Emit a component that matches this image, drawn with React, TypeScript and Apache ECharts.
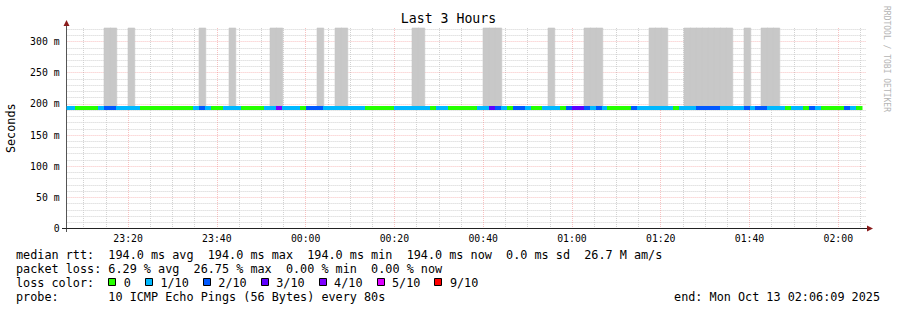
import React, { useEffect, useRef } from "react";
import * as echarts from "echarts";

const FONT = '"DejaVu Sans Mono", monospace';

// ---- time range (local time) ----
const RANGE_START = new Date(2025, 9, 12, 23, 6, 9).getTime();
const RANGE_END = new Date(2025, 9, 13, 2, 6, 9).getTime();
const FIRST_SAMPLE = new Date(2025, 9, 12, 23, 5, 20).getTime();
const STEP_MS = 80 * 1000;

// ---- values ----
const MEDIAN_RTT_MS = 194.0;
const Y_MAX_MS = 321.7;

// packet loss (in tenths) for each 80 s sample, oldest first
const lossTenths = [
  1, 1,
  0, 0, 0, 0, 1, 2, 2, 1, 1, 1, 1,
  0, 0, 0, 0, 0, 0, 0, 0, 0, 1, 2, 1,
  0, 0, 1, 1, 1, 0, 0, 0, 0, 1, 1, 4,
  1, 1, 1, 0, 2, 2, 2, 1, 1, 1, 1, 1, 1, 1,
  0, 0, 0, 0, 0, 1, 1, 1, 1, 1, 1, 0, 1, 1,
  0, 0, 0, 0, 0, 1, 1, 3, 2, 1, 0, 2, 2, 1,
  0, 0, 1, 1, 1, 0, 2, 3, 3, 2, 1, 2, 1,
  0, 0, 0, 0, 2, 1, 1, 1, 1, 1, 1, 0, 1, 1, 1,
  2, 2, 2, 2, 1, 1, 1, 1, 2, 1, 2, 2, 1, 1, 1,
  0, 1, 1, 0, 2, 1, 0, 0, 0, 0, 2, 1, 0,
];

// smoke: [sample index, highest rtt in ms] (values above the top are clipped)
const smokeSamples: [number, number][] = [
  [7, 400], [8, 400], [11, 400], [23, 400], [28, 400], [35, 400], [36, 400],
  [43, 400], [46, 400], [47, 400], [59, 400], [60, 400], [71, 400], [72, 400],
  [73, 400], [82, 400], [88, 400], [89, 400], [90, 400], [97, 196], [98, 196],
  [99, 400], [100, 400], [101, 400], [105, 400], [106, 400], [107, 400],
  [108, 400], [109, 400], [110, 400], [111, 400], [112, 400], [115, 400],
  [118, 400], [119, 400], [120, 400],
];

const lossLevels = [0, 1, 2, 3, 4, 5, 9];
const lossLabels = ["0", "1/10", "2/10", "3/10", "4/10", "5/10", "9/10"];
const lossColors = ["#26ff00", "#00b8ff", "#0059ff", "#5e00ff", "#7e00ff", "#dd00ff", "#ff0000"];

const medianStats = ["194.0 ms avg", "194.0 ms max", "194.0 ms min", "194.0 ms now", "0.0 ms sd", "26.7 M am/s"];
const lossStats = ["6.29 % avg", "26.75 % max", "0.00 % min", "0.00 % now"];
const probeText = "10 ICMP Echo Pings (56 Bytes) every 80s";
const endText = "end: Mon Oct 13 02:06:09 2025";
const titleText = "Last 3 Hours";
const yAxisTitle = "Seconds";
const sideText = "RRDTOOL / TOBI OETIKER";

function lossColor(l: number): string {
  let c = lossColors[0];
  lossLevels.forEach((lv, i) => {
    if (l >= lv) c = lossColors[i];
  });
  return c;
}

const pad = (n: number) => (n < 10 ? "0" + n : "" + n);

export default function App() {
  const ref = useRef<HTMLDivElement>(null);

  useEffect(() => {
    if (!ref.current) return;
    const chart = echarts.init(ref.current, null, { renderer: "svg" });

    const medianData = lossTenths.map((l, i) => [
      FIRST_SAMPLE + i * STEP_MS,
      FIRST_SAMPLE + (i + 1) * STEP_MS,
      MEDIAN_RTT_MS,
      l,
    ]);
    const smokeData = smokeSamples.map(([i, top]) => [
      FIRST_SAMPLE + i * STEP_MS,
      FIRST_SAMPLE + (i + 1) * STEP_MS,
      MEDIAN_RTT_MS,
      top,
    ]);

    const legendSize = 11.8;
    const CH = 7.1;
    const LX = 16;
    const rows = [254.5, 268.5, 282.5, 296.5];
    const txt = (text: string, x: number, y: number, extra: any = {}) => ({
      type: "text",
      x,
      y,
      silent: true,
      style: {
        text,
        fill: "#000",
        fontFamily: FONT,
        fontSize: legendSize,
        textAlign: "left",
        textVerticalAlign: "middle",
        align: "left",
        verticalAlign: "middle",
        ...extra,
      },
    });

    const graphics: any[] = [
      txt("median rtt:  " + medianStats.join("  "), LX, rows[0]),
      txt("packet loss: " + lossStats.join("  "), LX, rows[1]),
      txt("loss color:", LX, rows[2]),
      txt("probe:       " + probeText, LX, rows[3]),
      txt(endText, 880, rows[3], { textAlign: "right", align: "right" }),
      {
        type: "text",
        x: 886,
        y: 59,
        rotation: -Math.PI / 2,
        silent: true,
        style: {
          text: sideText,
          fill: "#b4b4b4",
          fontFamily: FONT,
          fontSize: 8,
          textAlign: "center",
          align: "center",
          textVerticalAlign: "middle",
          verticalAlign: "middle",
        },
      },
      // axis extensions and arrows
      { type: "line", silent: true, shape: { x1: 62, y1: 228.5, x2: 867, y2: 228.5 }, style: { stroke: "#222", lineWidth: 1 } },
      { type: "line", silent: true, shape: { x1: 66.5, y1: 232, x2: 66.5, y2: 24 }, style: { stroke: "#555", lineWidth: 1 } },
      { type: "polygon", silent: true, shape: { points: [[63.5, 26], [69.5, 26], [66.5, 20]] }, style: { fill: "#8a1c1c" } },
      { type: "polygon", silent: true, shape: { points: [[867, 225.5], [867, 231.5], [873, 228.5]] }, style: { fill: "#8a1c1c" } },
    ];

    let sx = LX + 13 * CH;
    lossLabels.forEach((lab, i) => {
      const rx = Math.round(sx) + 0.5;
      graphics.push({
        type: "rect",
        silent: true,
        shape: { x: rx, y: 278.5, width: 7, height: 7 },
        style: { fill: lossColors[i], stroke: "#000", lineWidth: 1 },
      });
      const lx = sx + 15.5;
      graphics.push(txt(lab, lx, rows[2]));
      sx = lx + lab.length * CH + 14.0;
    });

    const coordRect = (params: any) => ({
      x: params.coordSys.x,
      y: params.coordSys.y,
      width: params.coordSys.width,
      height: params.coordSys.height,
    });

    const gridMajor = "rgba(240, 110, 110, 0.42)";
    const gridMinor = "#d2d2d2";

    const option: any = {
      animation: false,
      backgroundColor: "#fff",
      title: {
        text: titleText,
        left: "center",
        top: 12,
        padding: 0,
        textStyle: { fontFamily: FONT, fontSize: 13.2, fontWeight: "normal", color: "#000" },
      },
      grid: {
        left: 66.6,
        right: 31.4,
        top: 28,
        bottom: 81.5,
        containLabel: false,
        outerBoundsMode: "none",
      },
      xAxis: [
        {
          type: "time",
          min: RANGE_START,
          max: RANGE_END,
          minInterval: 21 * 60 * 1000,
          maxInterval: 21 * 60 * 1000,
          z: 1,
          axisLine: { show: true, lineStyle: { color: "#222", width: 1 } },
          axisTick: { show: false },
          axisLabel: {
            show: true,
            margin: 5,
            color: "#000",
            fontFamily: FONT,
            fontSize: 9.8,
            fontWeight: "normal",
            showMinLabel: false,
            showMaxLabel: false,
            formatter: (value: number) => {
              const d = new Date(value);
              if (d.getSeconds() !== 0 || d.getMinutes() % 20 !== 0) return "";
              return pad(d.getHours()) + ":" + pad(d.getMinutes());
            },
            rich: {},
          },
          splitLine: {
            show: true,
            showMinLine: false,
            showMaxLine: false,
            lineStyle: { color: gridMajor, width: 1, type: [1, 1] },
          },
        },
        {
          type: "time",
          min: RANGE_START,
          max: RANGE_END,
          minInterval: 5.5 * 60 * 1000,
          maxInterval: 5.5 * 60 * 1000,
          z: 0,
          axisLine: { show: false },
          axisTick: { show: false },
          axisLabel: { show: false },
          splitLine: {
            show: true,
            showMaxLine: false,
            lineStyle: {
              color: [gridMinor, gridMinor, gridMinor, "rgba(0,0,0,0)"],
              width: 1,
              type: [1, 1],
            },
          },
        },
      ],
      yAxis: [
        {
          type: "value",
          min: 0,
          max: Y_MAX_MS,
          interval: 50,
          z: 1,
          name: yAxisTitle,
          nameLocation: "middle",
          nameGap: 50,
          nameRotate: 90,
          nameTextStyle: { fontFamily: FONT, fontSize: 11.8, color: "#000" },
          axisLine: { show: true, lineStyle: { color: "#555", width: 1 } },
          axisTick: { show: false },
          axisLabel: {
            margin: 7,
            color: "#000",
            fontFamily: FONT,
            fontSize: 9.8,
            showMaxLabel: false,
            formatter: (v: number) => {
              if (v % 50 !== 0) return "";
              return v === 0 ? "0" : v + " m";
            },
          },
          splitLine: {
            show: true,
            showMinLine: false,
            showMaxLine: false,
            lineStyle: { color: gridMajor, width: 1, type: [1, 1] },
          },
        },
        {
          type: "value",
          min: 0,
          max: Y_MAX_MS,
          interval: 10,
          z: 0,
          axisLine: { show: false },
          axisTick: { show: false },
          axisLabel: { show: false },
          splitLine: {
            show: true,
            showMaxLine: false,
            lineStyle: {
              color: ["rgba(0,0,0,0)", gridMinor, gridMinor, gridMinor, gridMinor],
              width: 1,
              type: [1, 1],
            },
          },
        },
      ],
      series: [
        {
          type: "custom",
          name: "smoke",
          xAxisIndex: 0,
          yAxisIndex: 0,
          dimensions: ["start", "end", "median", "top"],
          encode: { x: [0, 1], y: [2, 3] },
          data: smokeData,
          z: 2,
          renderItem: (params: any, api: any) => {
            const p0 = api.coord([api.value(0), api.value(3)]);
            const p1 = api.coord([api.value(1), api.value(2)]);
            const bottom = Math.round(p1[1]) - 2;
            const x0 = Math.round(p0[0]);
            const x1 = Math.round(p1[0]);
            const shape = echarts.graphic.clipRectByRect(
              { x: x0, y: p0[1], width: x1 - x0 + 0.8, height: bottom - p0[1] },
              coordRect(params)
            );
            if (!shape) return null;
            return {
              type: "rect",
              shape,
              style: { fill: "#c8c8c8", stroke: "#c8c8c8", lineWidth: 0.6 },
            };
          },
        },
        {
          type: "custom",
          name: "median rtt",
          xAxisIndex: 0,
          yAxisIndex: 0,
          dimensions: ["start", "end", "median", "loss"],
          encode: { x: [0, 1], y: 2 },
          data: medianData,
          z: 3,
          renderItem: (params: any, api: any) => {
            const p0 = api.coord([api.value(0), api.value(2)]);
            const p1 = api.coord([api.value(1), api.value(2)]);
            const y = Math.round(p0[1]) - 2;
            const x0 = Math.round(p0[0]);
            const x1 = Math.round(p1[0]);
            const shape = echarts.graphic.clipRectByRect(
              { x: x0, y, width: x1 - x0 + 0.5, height: 4 },
              coordRect(params)
            );
            if (!shape) return null;
            return { type: "rect", shape, style: { fill: lossColor(api.value(3)) } };
          },
        },
      ],
      graphic: graphics,
    };

    chart.setOption(option);
    return () => {
      chart.dispose();
    };
  }, []);

  return (
    <div
      ref={ref}
      style={{ position: "absolute", left: 0, top: 0, width: 897, height: 310, background: "#fff" }}
    />
  );
}
